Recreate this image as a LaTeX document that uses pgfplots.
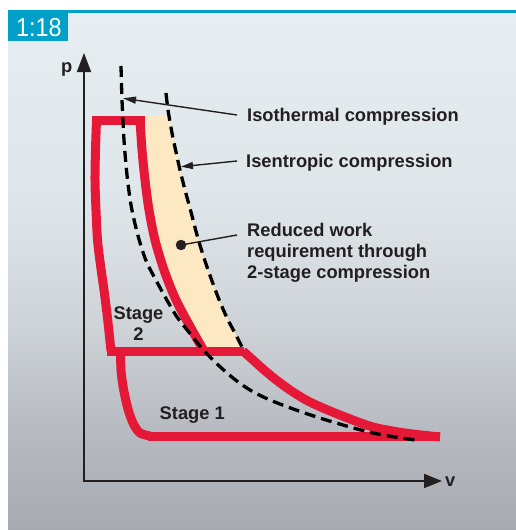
\documentclass[border=0pt]{standalone}
\usepackage{fontspec}
\setmainfont{Liberation Sans}
\usepackage{pgfplots}
\pgfplotsset{compat=1.18}
\usetikzlibrary{arrows.meta}
\definecolor{figteal}{RGB}{0,160,200}
\definecolor{figred}{RGB}{230,24,56}
\definecolor{beige}{RGB}{252,233,196}
\definecolor{txt}{RGB}{35,31,32}
\definecolor{bga}{RGB}{230,238,242}
\definecolor{bgb}{RGB}{223,230,234}
\definecolor{bgc}{RGB}{205,210,215}
\definecolor{bgd}{RGB}{183,187,193}
\definecolor{bge}{RGB}{167,170,177}
\begin{document}
\begin{tikzpicture}
\begin{axis}[width=516pt,height=530pt,scale only axis,
  xmin=0,xmax=516,ymin=0,ymax=530,y dir=reverse,hide axis,
  every axis plot/.append style={no marks}]
% background
\fill[white] (0,0) rectangle (516,530);
\shade[top color=bga,bottom color=bgb] (8,12) rectangle (516,201);
\shade[top color=bgb,bottom color=bgc] (8,200) rectangle (516,331);
\shade[top color=bgc,bottom color=bgd] (8,330) rectangle (516,431);
\shade[top color=bgd,bottom color=bge] (8,430) rectangle (516,530);
\fill[figteal] (8,10) rectangle (516,12.5);
\fill[figteal] (8,10) rectangle (68,41);
\node[anchor=base west,inner sep=0,text=white] at (16,36) {\fontsize{26}{26}\selectfont\scalebox{0.9}[1]{1:18}};
% reduced work area
\addplot[fill=beige,draw=none] coordinates {
(140,115.5) (169,115.5) (172,133) (176,152) (180,170) (185,190) (191,212) (197,235)
(204,258) (212,281) (220,302) (228,320) (236,335) (244,351)
(204,351) (198,340) (192,330) (184,315) (176,300) (169,285) (164,270) (159,255)
(155,240) (151.5,225) (149,210) (147,195) (145,180) (143.5,165) (142,150) (141,135) (140,120)} -- cycle;
% axes
\addplot[line width=1.6pt,color=txt,line join=miter,
  arrows={Triangle[length=19pt,width=14pt]-Triangle[length=18pt,width=14pt]}]
  coordinates {(84,53) (84,481) (442,481)};
% stage 2 cycle
\addplot[figred,line width=9pt,line cap=butt] coordinates {(92,120) (144.5,120)};
\addplot[figred,line width=9pt,smooth] coordinates {
(96.5,120) (95.5,150) (95,180) (96,210) (97.5,240) (100.5,265) (104,290) (107.5,318) (111,351)};
\addplot[figred,line width=9pt,smooth] coordinates {
(140,120) (142,150) (145,180) (149,210) (155,240) (164,270) (176,300) (192,330) (204,351)};
\addplot[figred,line width=9pt,line cap=butt] coordinates {(106.5,351) (244,351)};
% stage 1 cycle
\addplot[figred,line width=9pt,smooth] coordinates {
(120.5,351) (121,370) (123,386) (126,401) (129.5,414) (134,425) (140,433) (150,436)};
\addplot[figred,line width=9pt,line cap=butt] coordinates {(148,436) (440,436)};
\addplot[figred,line width=9pt,smooth] coordinates {
(243,351) (253,360) (263,369) (275,379) (290,390) (306,400) (323,408) (345,417)
(373,427) (405,433) (440,437)};
% isothermal
\addplot[black,line width=3.3pt,dash pattern=on 11pt off 6pt,smooth] coordinates {
(121,66) (122,100) (124,140) (127,175) (131,205) (136,228) (141,246) (147,263)
(158,284) (168,302) (177,317) (188,331) (200,346) (215,362) (233,378) (250,390)
(270,400) (296,410) (323,419) (350,427) (373,433) (395,437) (415,440)};
% isentropic
\addplot[black,line width=3.3pt,dash pattern=on 11pt off 6pt,smooth] coordinates {
(166,93) (168,110) (172,133) (176,152) (180,170) (185,190) (191,212) (197,235)
(204,258) (212,281) (220,302) (228,320) (236,335) (243,349)};
% annotations
\addplot[txt,line width=1.4pt,-{Triangle[length=13pt,width=7pt]}] coordinates {(237,115) (123,98.3)};
\addplot[txt,line width=1.4pt,-{Triangle[length=12pt,width=7pt]}] coordinates {(237,161) (181,166.7)};
\addplot[txt,line width=1.4pt] coordinates {(181,245) (237,235)};
\addplot[txt,only marks,mark=*,mark size=5pt] coordinates {(181,245)};
% texts
\begin{scope}[every node/.style={inner sep=0,text=txt,font=\bfseries\fontsize{18.3}{21}\selectfont}]
\node[anchor=base west] at (247,121) {Isothermal compression};
\node[anchor=base west] at (246,167.7) {Isentropic compression};
\node[anchor=base west] at (247,236) {Reduced work};
\node[anchor=base west] at (247,257.5) {requirement through};
\node[anchor=base west] at (247,278.5) {2-stage compression};
\node[anchor=base] at (138.5,319) {Stage};
\node[anchor=base] at (138.5,340) {2};
\node[anchor=base west] at (159.5,419.3) {Stage 1};
\node[anchor=base west] at (61,72.7) {p};
\node[anchor=base west] at (445,486.7) {v};
\end{scope}
\end{axis}
\end{tikzpicture}
\end{document}
